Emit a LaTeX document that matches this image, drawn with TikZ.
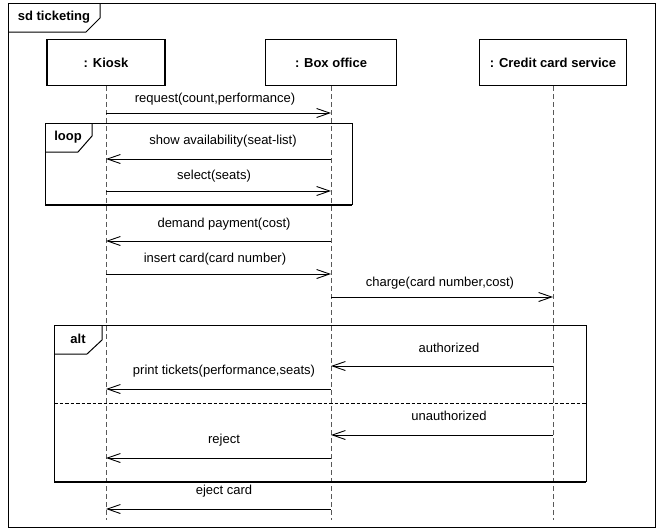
\documentclass[tikz,border=0pt]{standalone}
\usepackage{fontspec}
\setmainfont{Liberation Sans}
\usetikzlibrary{arrows.meta}
\begin{document}
\begin{tikzpicture}[x=1pt,y=-1pt,
  every node/.style={font=\fontsize{13}{15}\selectfont, inner sep=0pt},
  head/.style={draw, line width=1.1pt, minimum width=#1, minimum height=46pt, font=\fontsize{13}{15}\selectfont\bfseries},
  lifeline/.style={draw=black!65, line width=1pt, dash pattern=on 5pt off 3pt},
  msg/.style={draw, line width=0.9pt, -{Straight Barb[length=13pt,width=9pt]}},
  frm/.style={draw, line width=1pt},
  frmbottom/.style={draw, line width=1.8pt},
  tag/.style={font=\fontsize{13}{15}\selectfont\bfseries},
  lbl/.style={anchor=center}
]
\useasboundingbox (0,0) rectangle (663,528);
\fill[white] (0,0) rectangle (663,528);

% outer frame
\draw[frm] (8,3) rectangle (655,527);
\draw[frm] (8,32) -- (86,32) -- (100,18) -- (100,3);
\node[tag] (sdtag) at (54,17) {sd ticketing};

% lifeline heads
\node[head=118pt] (kiosk) at (106,62.5) {: Kiosk};
\node[head=131pt] (box) at (331,62.5) {: Box office};
\node[head=147pt] (ccs) at (553,62.5) {: Credit card service};

\coordinate (kend) at (106,520);
\coordinate (bend) at (331,520);
\coordinate (cend) at (553,520);
\draw[lifeline] (kiosk.south) -- (kend);
\draw[lifeline] (box.south) -- (bend);
\draw[lifeline] (ccs.south) -- (cend);

% message end points
\coordinate (k1) at (106,113);  \coordinate (b1) at (331,113);
\coordinate (k2) at (106,159);  \coordinate (b2) at (331,159);
\coordinate (k3) at (106,191);  \coordinate (b3) at (331,191);
\coordinate (k4) at (106,241);  \coordinate (b4) at (331,241);
\coordinate (k5) at (106,274);  \coordinate (b5) at (331,274);
\coordinate (b6) at (331,297);  \coordinate (c6) at (553,297);
\coordinate (b7) at (331,366);  \coordinate (c7) at (553,366);
\coordinate (k8) at (106,389);  \coordinate (b8) at (331,389);
\coordinate (b9) at (331,435);  \coordinate (c9) at (553,435);
\coordinate (k10) at (106,458); \coordinate (b10) at (331,458);
\coordinate (k11) at (106,509); \coordinate (b11) at (331,509);

% loop fragment
\draw[frm] (45,205) -- (45,123) -- (352,123) -- (352,205);
\draw[frmbottom] (45,205) -- (352,205);
\draw[frm] (45,152) -- (78,152) -- (92,136) -- (92,123);
\node[tag] (looptag) at (68,137) {loop};

% alt fragment
\draw[frm] (54,482) -- (54,325) -- (586,325) -- (586,482);
\draw[frmbottom] (54,482) -- (586,482);
\draw[frm] (54,354) -- (87,354) -- (102,340) -- (102,325);
\node[tag] (alttag) at (78,339) {alt};
\coordinate (divl) at (54,403);
\coordinate (divr) at (586,403);
\draw[line width=0.9pt, dash pattern=on 3.5pt off 2pt] (divl) -- (divr);

% messages
\draw[msg] (k1) -- (b1);
\node[lbl] (l1) at (215,99) {request(count,performance)};
\draw[msg] (b2) -- (k2);
\node[lbl] (l2) at (223,141) {show availability(seat-list)};
\draw[msg] (k3) -- (b3);
\node[lbl] (l3) at (214,176) {select(seats)};
\draw[msg] (b4) -- (k4);
\node[lbl] (l4) at (224,224) {demand payment(cost)};
\draw[msg] (k5) -- (b5);
\node[lbl] (l5) at (215,259) {insert card(card number)};
\draw[msg] (b6) -- (c6);
\node[lbl] (l6) at (440,283) {charge(card number,cost)};
\draw[msg] (c7) -- (b7);
\node[lbl] (l7) at (449,348) {authorized};
\draw[msg] (b8) -- (k8);
\node[lbl] (l8) at (224,371) {print tickets(performance,seats)};
\draw[msg] (c9) -- (b9);
\node[lbl] (l9) at (449,416) {unauthorized};
\draw[msg] (b10) -- (k10);
\node[lbl] (l10) at (224,440) {reject};
\draw[msg] (b11) -- (k11);
\node[lbl] (l11) at (224,491) {eject card};
\end{tikzpicture}
\end{document}
